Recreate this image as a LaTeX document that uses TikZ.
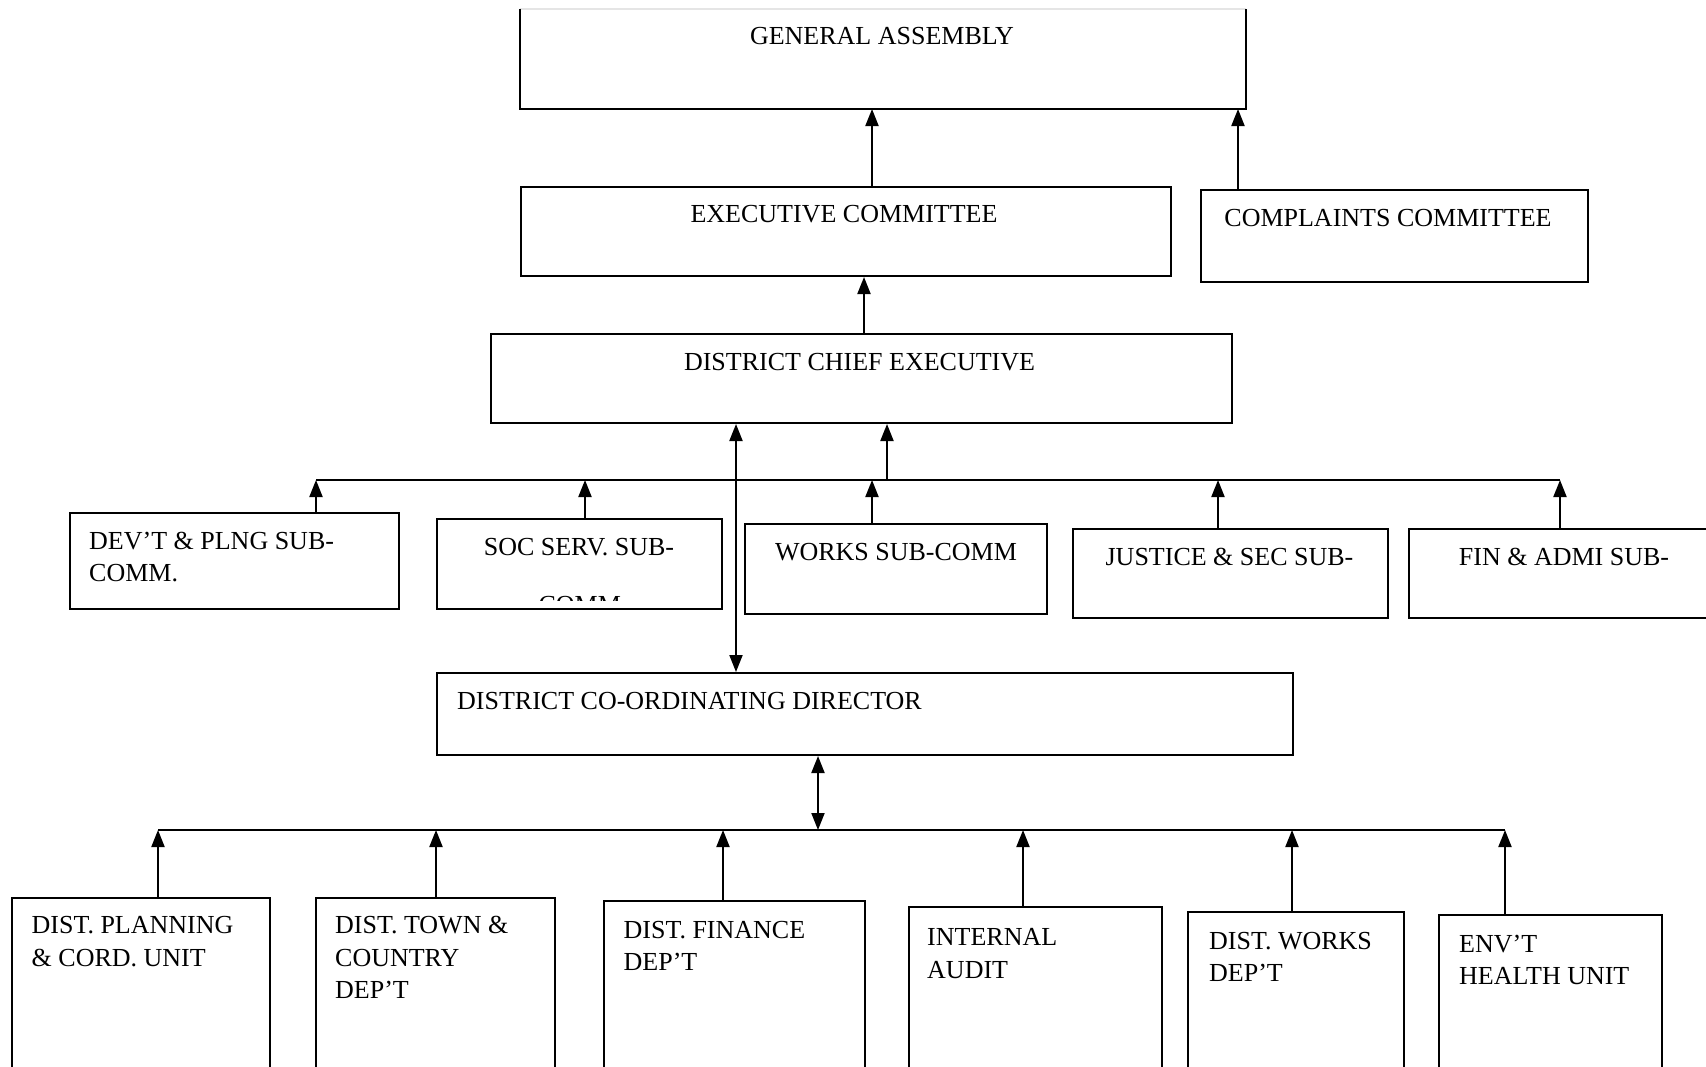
\documentclass[tikz,border=0pt]{standalone}
\usepackage{fontspec}
\setmainfont{Liberation Serif}
\usetikzlibrary{arrows.meta}
\newcommand\mlines[1]{\begin{tabular}[t]{@{}l@{}}#1\end{tabular}}
\begin{document}
\begin{tikzpicture}[x=1pt,y=-1pt,
  box/.style={draw=black, line width=2pt, rectangle, inner sep=0pt, anchor=north west},
  lbl/.style={font=\fontsize{26}{32.6}\selectfont, inner sep=0pt, anchor=base},
  lbll/.style={lbl, anchor=base west},
  ln/.style={line width=2pt},
  arr/.style={line width=2pt, -{Triangle[length=17pt,width=13pt]}},
  darr/.style={line width=2pt, {Triangle[length=17pt,width=13pt]}-{Triangle[length=17pt,width=13pt]}}
]
\fill[white] (0,0) rectangle (1706,1066);
\clip (0,0) rectangle (1706,1066);

% top levels
\node[box, draw=none, minimum width=724pt, minimum height=98pt] (ga) at (520,9) {};
\draw[gray!20, line width=2pt] (ga.north west) -- (ga.north east);
\draw[line width=2pt] (ga.north west) -- (ga.south west) -- (ga.south east) -- (ga.north east);
\node[lbl] (gat) at (882,44) {GENERAL ASSEMBLY};

\node[box, minimum width=650pt, minimum height=89pt] (ec) at (520,186) {};
\node[lbl] (ect) at (844,222) {EXECUTIVE COMMITTEE};

\node[box, minimum width=387pt, minimum height=92pt] (cc) at (1200,189) {};
\node[lbl] (cct) at (1388,226) {COMPLAINTS COMMITTEE};

\node[box, minimum width=741pt, minimum height=89pt] (dce) at (490,333) {};
\node[lbl] (dcet) at (859.5,370) {DISTRICT CHIEF EXECUTIVE};

\draw[arr] (872,0 |- ec.north) -- (872,0 |- ga.south);
\draw[arr] (1238,0 |- cc.north) -- (1238,0 |- ga.south);
\draw[arr] (864,0 |- dce.north) -- (864,0 |- ec.south);

% sub-committees
\node[box, minimum width=329pt, minimum height=96pt] (s1) at (69,512) {};
\node[lbll] (s1t) at (89,549) {\mlines{DEV’T \& PLNG SUB-\\COMM.}};

\node[box, minimum width=285pt, minimum height=90pt] (s2) at (436,518) {};
\node[lbl] (s2t) at (579,555) {SOC SERV. SUB-};
\begin{scope}
  \clip (436,518) rectangle (721,600.5);
  \node[lbl] (s2u) at (583,613) {COMM.};
\end{scope}

\node[box, minimum width=302pt, minimum height=90pt] (s3) at (744,523) {};
\node[lbl] (s3t) at (896,560) {WORKS SUB-COMM};

\node[box, minimum width=315pt, minimum height=89pt] (s4) at (1072,528) {};
\node[lbl] (s4t) at (1229.5,565) {JUSTICE \& SEC SUB-};

\node[box, minimum width=320pt, minimum height=89pt] (s5) at (1408,528) {};
\node[lbl] (s5t) at (1564,565) {FIN \& ADMI SUB-};

\coordinate (b1l) at (316,480);
\coordinate (b1r) at (1560,480);
\coordinate (b1c) at (887,480);
\draw[ln] (b1l) -- (b1r);
\draw[arr] (b1c) -- (887,0 |- dce.south);
\draw[arr] (316,0 |- s1.north) -- (b1l);
\draw[arr] (585,0 |- s2.north) -- (585,480);
\draw[arr] (872,0 |- s3.north) -- (872,480);
\draw[arr] (1218,0 |- s4.north) -- (1218,480);
\draw[arr] (1560,0 |- s5.north) -- (b1r);

% co-ordinating director
\node[box, minimum width=856pt, minimum height=82pt] (dcd) at (436,672) {};
\node[lbll] (dcdt) at (457,709) {DISTRICT CO-ORDINATING DIRECTOR};
\draw[darr] (736,0 |- dce.south) -- (736,0 |- dcd.north);

\coordinate (b2l) at (158,830);
\coordinate (b2r) at (1505,830);
\coordinate (b2c) at (818,830);
\draw[ln] (b2l) -- (b2r);
\draw[darr] (818,0 |- dcd.south) -- (b2c);

% departments
\node[box, minimum width=258pt, minimum height=250pt] (d1) at (11,897) {};
\node[lbll] (d1t) at (31.5,933.5) {\mlines{DIST. PLANNING\\\& CORD. UNIT}};

\node[box, minimum width=239pt, minimum height=250pt] (d2) at (315,897) {};
\node[lbll] (d2t) at (335,933.5) {\mlines{DIST. TOWN \&\\COUNTRY\\DEP’T}};

\node[box, minimum width=261pt, minimum height=250pt] (d3) at (603,900) {};
\node[lbll] (d3t) at (623.5,938) {\mlines{DIST. FINANCE\\DEP’T}};

\node[box, minimum width=253pt, minimum height=250pt] (d4) at (908,906) {};
\node[lbll] (d4t) at (927,945.5) {\mlines{INTERNAL\\AUDIT}};

\node[box, minimum width=216pt, minimum height=250pt] (d5) at (1187,911) {};
\node[lbll] (d5t) at (1209,949) {\mlines{DIST. WORKS\\DEP’T}};

\node[box, minimum width=223pt, minimum height=250pt] (d6) at (1438,914) {};
\node[lbll] (d6t) at (1459,952) {\mlines{ENV’T\\HEALTH UNIT}};

\draw[arr] (158,0 |- d1.north) -- (b2l);
\draw[arr] (436,0 |- d2.north) -- (436,830);
\draw[arr] (723,0 |- d3.north) -- (723,830);
\draw[arr] (1023,0 |- d4.north) -- (1023,830);
\draw[arr] (1292,0 |- d5.north) -- (1292,830);
\draw[arr] (1505,0 |- d6.north) -- (b2r);
\end{tikzpicture}
\end{document}
